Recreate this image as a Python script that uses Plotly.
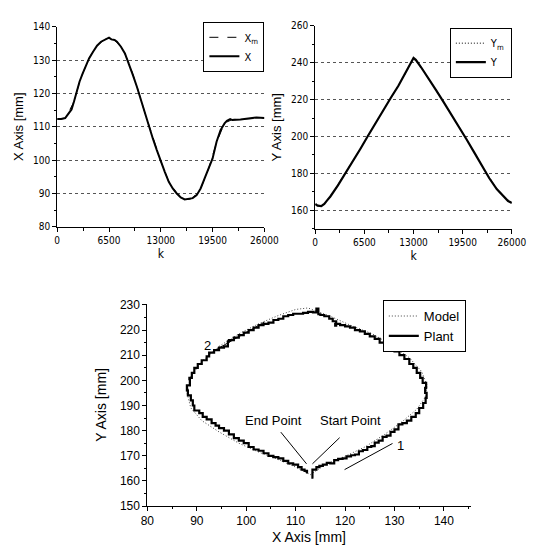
import plotly.graph_objects as go

# ---------------- data: top-left (X vs k) ----------------
k_x_plant = [0, 500, 1000, 1200, 1500, 1800, 2100, 2500, 2800, 3200, 3600, 4000, 4500, 5000,
             5500, 6000, 6300, 6500, 6800, 7200, 7500, 8000, 8500, 9000, 9500, 10000, 10500,
             11000, 11500, 12000, 12500, 13000, 13500, 14000, 14500, 15000, 15500, 16000,
             16500, 17000, 17500, 18000, 18500, 19000, 19500, 20000, 20500, 21000, 21300,
             21700, 22000, 23000, 24000, 25000, 26000]
x_plant = [112.3, 112.3, 112.6, 113.3, 114.5, 115.2, 117.5, 121.0, 123.5, 126.0, 128.5, 130.5,
           132.5, 134.3, 135.5, 136.0, 136.3, 136.7, 136.2, 136.0, 135.5, 134.0, 132.0, 129.0,
           125.5, 122.0, 118.0, 114.0, 110.3, 106.5, 103.0, 99.5, 96.5, 93.5, 91.5, 90.0, 88.8,
           88.2, 88.3, 88.6, 89.5, 91.5, 94.5, 97.5, 100.5, 105.5, 109.0, 111.0, 111.8, 112.3,
           112.0, 112.2, 112.4, 112.8, 112.6]
k_x_model = [0, 1000, 2000, 3000, 4000, 5000, 6000, 6500, 7000, 8000, 9000, 10000, 11000,
             12000, 13000, 14000, 15000, 16000, 16500, 17000, 18000, 19000, 20000, 21000,
             22000, 24000, 26000]
x_model = [112.3, 112.5, 117.0, 124.8, 130.6, 134.4, 136.2, 136.5, 136.3, 134.2, 129.2, 122.2,
           114.2, 106.6, 99.6, 93.6, 90.1, 88.3, 88.2, 88.6, 91.4, 97.4, 105.3, 111.1, 112.2,
           112.4, 112.6]

# ---------------- data: top-right (Y vs k) ----------------
k_y_plant = [0, 300, 800, 1200, 1600, 2000, 3000, 4000, 5000, 6000, 7000, 8000, 9000, 10000,
             11000, 12000, 12600, 13000, 13300, 14000, 15000, 16000, 17000, 18000, 19000,
             20000, 21000, 22000, 23000, 24000, 25000, 25500, 26000]
y_plant = [163.5, 162.5, 162.3, 163.5, 165.5, 167.5, 173.5, 180.0, 187.0, 193.5, 200.5, 207.5,
           214.0, 221.0, 227.5, 234.5, 239.5, 242.5, 241.5, 237.5, 231.5, 225.0, 218.5, 212.0,
           205.5, 198.5, 191.5, 184.5, 177.5, 171.5, 167.0, 165.0, 164.0]
k_y_model = [0, 1000, 2000, 4000, 6000, 8000, 10000, 12000, 13000, 14000, 16000, 18000, 20000,
             22000, 24000, 25000, 26000]
y_model = [163.0, 162.5, 167.3, 180.2, 193.6, 207.4, 221.0, 234.6, 242.2, 237.6, 225.1, 212.1,
           198.6, 184.6, 171.6, 167.2, 164.1]

# ---------------- data: bottom (trajectory) ----------------
traj_plant_x = [113.6, 113.4, 114.2, 114.8, 115.5, 116.3, 117.0, 117.8, 118.6, 119.5, 120.3,
                121.2, 122.0, 122.8, 123.6, 124.5, 125.3, 126.0, 126.8, 127.6, 128.4, 129.2,
                130.0, 130.8, 131.6, 132.5, 133.4, 134.3, 135.0, 135.8, 136.3, 136.5, 136.2,
                136.4, 135.7, 135.2, 134.5, 133.8, 133.0, 132.0, 131.0, 130.0, 129.0, 128.0,
                127.0, 126.0, 125.0, 124.0, 123.0, 122.0, 121.0, 120.0, 119.0, 118.0, 118.2,
                117.5, 116.8, 115.8, 115.0, 114.6, 114.2, 113.5, 112.5, 111.5, 110.5, 109.5,
                108.5, 107.5, 106.5, 105.5, 104.5, 103.5, 102.5, 101.5, 100.5, 99.5, 98.5,
                97.5, 96.5, 96.3, 95.5, 94.5, 93.5, 92.5, 92.0, 91.0, 90.2, 89.5, 89.0, 88.5,
                88.6, 88.0, 88.2, 88.8, 89.2, 89.5, 90.5, 91.2, 92.0, 93.0, 93.8, 94.5, 95.5,
                96.5, 97.5, 98.5, 99.5, 100.5, 101.5, 102.5, 103.5, 104.5, 105.5, 106.5, 107.5,
                108.5, 109.5, 110.5, 111.2, 111.8, 112.3]
traj_plant_y = [161.3, 164.5, 165.5, 166.0, 166.5, 167.2, 167.0, 168.3, 168.8, 169.0, 169.8,
                170.2, 170.5, 171.8, 172.3, 173.5, 173.8, 175.2, 176.0, 177.5, 178.0, 179.5,
                180.5, 182.5, 183.0, 184.0, 185.5, 187.0, 189.0, 191.0, 193.0, 195.0, 197.0,
                199.0, 201.0, 203.0, 205.0, 206.5, 208.5, 210.0, 211.5, 213.0, 214.0, 215.0,
                216.5, 217.5, 218.5, 219.5, 220.0, 221.0, 221.5, 222.0, 222.5, 221.8, 223.5,
                224.5, 225.5, 226.0, 226.3, 228.5, 227.0, 227.2, 226.8, 226.5, 226.5, 226.0,
                225.5, 224.5, 224.0, 223.0, 222.5, 222.0, 221.0, 220.0, 219.0, 218.0, 217.0,
                216.0, 215.5, 213.5, 213.0, 212.0, 211.0, 209.5, 208.0, 206.5, 205.0, 203.0,
                201.0, 200.5, 198.0, 196.0, 194.0, 192.0, 190.0, 188.0, 187.0, 185.5, 184.5,
                183.0, 182.0, 181.0, 180.0, 178.5, 177.0, 176.0, 175.0, 173.5, 172.5, 172.0,
                171.0, 170.0, 169.5, 169.0, 168.0, 167.0, 166.5, 165.5, 164.5, 164.0, 163.0]
traj_model_x = [113.0, 116.0, 120.0, 124.0, 128.0, 131.5, 134.5, 136.3, 136.6, 135.5, 133.0,
                129.5, 125.5, 121.0, 117.0, 114.5, 112.5, 110.0, 106.5, 102.5, 98.5, 94.5,
                91.0, 88.8, 88.0, 88.8, 91.0, 94.5, 98.5, 102.5, 106.5, 110.0, 113.0]
traj_model_y = [162.5, 166.5, 169.8, 173.5, 178.5, 183.5, 188.5, 193.5, 198.0, 203.5, 209.0,
                214.0, 218.5, 222.0, 225.5, 227.5, 228.8, 228.2, 225.8, 222.5, 218.5, 213.5,
                207.5, 201.5, 195.0, 189.0, 184.0, 179.5, 175.0, 171.5, 168.5, 165.5, 162.5]

# annotation texts and pointer lines (data coordinates of bottom plot)
note_texts = ["End Point", "Start Point", "1", "2"]
note_x = [105.6, 121.0, 131.3, 92.2]
note_y = [184.0, 184.0, 174.2, 213.8]
pointer_lines = [((107.0, 179.4), (112.2, 166.8)),
                 ((118.9, 177.2), (113.4, 166.8)),
                 ((119.9, 164.5), (129.6, 174.9)),
                 ((93.9, 212.2), (103.7, 223.2))]

top_ticks = [0, 6500, 13000, 19500, 26000]
top_tick_labels = ["0", "6500", "13000", "19500", "26000"]

W, H = 539, 549
narrow = "Liberation Sans Narrow, DejaVu Sans Condensed, Arial Narrow, sans-serif"
arial = "Liberation Sans, Arial, sans-serif"

fig = go.Figure()

# top-left
fig.add_trace(go.Scatter(x=k_x_model, y=x_model, mode="lines", name="X<sub>m</sub>",
                         line=dict(color="black", width=1, dash="dash"),
                         xaxis="x", yaxis="y", legend="legend"))
fig.add_trace(go.Scatter(x=k_x_plant, y=x_plant, mode="lines", name="X",
                         line=dict(color="black", width=2),
                         xaxis="x", yaxis="y", legend="legend"))
# top-right
fig.add_trace(go.Scatter(x=k_y_model, y=y_model, mode="lines", name="Y<sub>m</sub>",
                         line=dict(color="black", width=1, dash="1px,2px"),
                         xaxis="x2", yaxis="y2", legend="legend2"))
fig.add_trace(go.Scatter(x=k_y_plant, y=y_plant, mode="lines", name="Y",
                         line=dict(color="black", width=2.2),
                         xaxis="x2", yaxis="y2", legend="legend2"))
# bottom
fig.add_trace(go.Scatter(x=traj_model_x, y=traj_model_y, mode="lines", name="Model",
                         line=dict(color="#444", width=1, dash="1px,2px"),
                         xaxis="x3", yaxis="y3", legend="legend3"))
fig.add_trace(go.Scatter(x=traj_plant_x, y=traj_plant_y, mode="lines", name="Plant",
                         line=dict(color="black", width=2.2, shape="hv"),
                         xaxis="x3", yaxis="y3", legend="legend3"))

def px_x(a, b):
    return [a / W, b / W]

def px_y(top, bottom):
    return [1 - bottom / H, 1 - top / H]

top_axis_common = dict(showline=True, linecolor="black", linewidth=1, ticks="outside",
                       ticklen=4, tickcolor="black", zeroline=False,
                       tickfont=dict(family=narrow, size=10, color="black"))

fig.update_layout(
    width=W, height=H, margin=dict(l=0, r=0, t=0, b=0),
    paper_bgcolor="white", plot_bgcolor="white",
    xaxis=dict(domain=px_x(44, 260), range=[0, 26000], tickvals=top_ticks, ticktext=top_tick_labels,
               minor=dict(ticks="outside", ticklen=3, tickcolor="black", dtick=3250, tick0=0),
               showgrid=False, anchor="y",
               title=dict(text="k", font=dict(family=narrow, size=12, color="black"), standoff=4),
               **top_axis_common),
    yaxis=dict(domain=px_y(13, 218), range=[80, 140], dtick=10, anchor="x",
               showgrid=True, gridcolor="#555", griddash="dot", gridwidth=1,
               minor=dict(ticks="outside", ticklen=2, tickcolor="black", dtick=5),
               title=dict(text="X Axis [mm]", font=dict(family=arial, size=13, color="black"), standoff=6),
               **top_axis_common),
    xaxis2=dict(domain=px_x(313, 518), range=[0, 26000], tickvals=top_ticks, ticktext=top_tick_labels,
                minor=dict(ticks="outside", ticklen=3, tickcolor="black", dtick=3250, tick0=0),
                showgrid=False, anchor="y2",
                title=dict(text="k", font=dict(family=narrow, size=12, color="black"), standoff=4),
                **top_axis_common),
    yaxis2=dict(domain=px_y(12, 220), range=[150, 260], tickvals=[160, 180, 200, 220, 240, 260],
                anchor="x2", showgrid=True, gridcolor="#555", griddash="dot", gridwidth=1,
                minor=dict(ticks="outside", ticklen=2, tickcolor="black", dtick=10, tick0=150),
                title=dict(text="Y Axis [mm]", font=dict(family=arial, size=13, color="black"), standoff=6),
                **top_axis_common),
    xaxis3=dict(domain=px_x(138, 475), range=[80, 145.4], dtick=10, anchor="y3",
                showline=True, linecolor="black", linewidth=1, ticks="outside", ticklen=4,
                tickcolor="black", showgrid=False, zeroline=False,
                minor=dict(ticks="outside", ticklen=2, tickcolor="black", dtick=5),
                tickfont=dict(family=arial, size=12, color="black"),
                title=dict(text="X Axis [mm]", font=dict(family=arial, size=14, color="black"), standoff=4)),
    yaxis3=dict(domain=px_y(296.7, 504), range=[150, 230.5], dtick=10, anchor="x3",
                showline=True, linecolor="black", linewidth=1, ticks="outside", ticklen=4,
                tickcolor="black", showgrid=False, zeroline=False,
                minor=dict(ticks="outside", ticklen=2, tickcolor="black", dtick=5),
                tickfont=dict(family=arial, size=12, color="black"),
                title=dict(text="Y Axis [mm]", font=dict(family=arial, size=14, color="black"), standoff=10)),
    legend=dict(x=260 / W, xanchor="right", y=1 - 8 / H, yanchor="top",
                bordercolor="black", borderwidth=1, bgcolor="white",
                font=dict(family=narrow, size=11, color="black"), itemwidth=30,
                tracegroupgap=0),
    legend2=dict(x=518 / W, xanchor="right", y=1 - 14 / H, yanchor="top",
                 bordercolor="black", borderwidth=1, bgcolor="white",
                 font=dict(family=narrow, size=11, color="black"), itemwidth=30),
    legend3=dict(x=470 / W, xanchor="right", y=1 - 293 / H, yanchor="top",
                 bordercolor="black", borderwidth=1, bgcolor="white",
                 font=dict(family=arial, size=13, color="black"), itemwidth=30),
    showlegend=True,
)

for t, xx, yy in zip(note_texts, note_x, note_y):
    fig.add_annotation(x=xx, y=yy, xref="x3", yref="y3", text=t, showarrow=False,
                       font=dict(family=arial, size=13, color="black"))
for (p0, p1) in pointer_lines:
    fig.add_shape(type="line", xref="x3", yref="y3", x0=p0[0], y0=p0[1], x1=p1[0], y1=p1[1],
                  line=dict(color="black", width=1))

fig.write_html("out.html")
